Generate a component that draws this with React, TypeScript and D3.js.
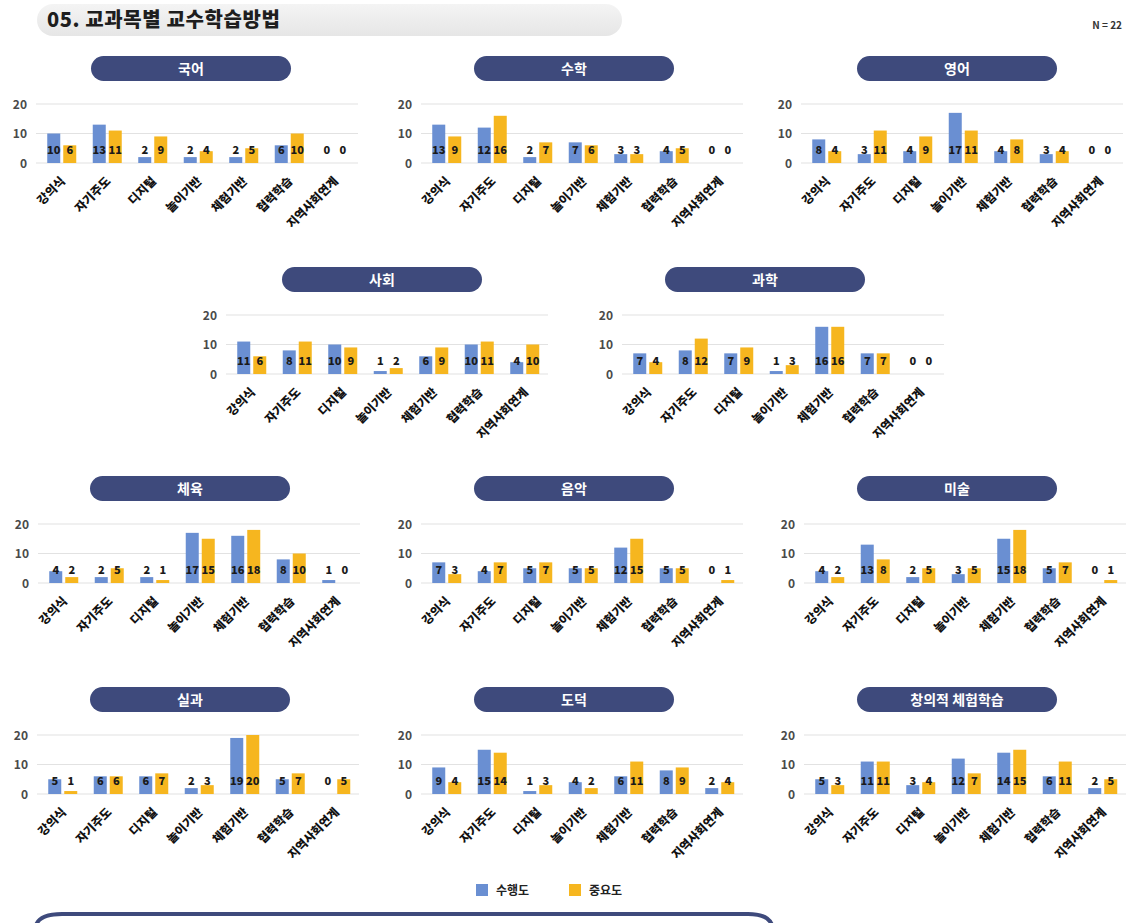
import React from "react";
import * as d3 from "d3";

const categories = ["강의식", "자기주도", "디지털", "놀이기반", "체험기반", "협력학습", "지역사회연계"];
const subjects = ["국어", "수학", "영어", "사회", "과학", "체육", "음악", "미술", "실과", "도덕", "창의적 체험학습"];
const seriesNames = ["수행도", "중요도"];
const yTicks = [0, 10, 20];

// 수행도
const performance = [
  [10, 13, 2, 2, 2, 6, 0],
  [13, 12, 2, 7, 3, 4, 0],
  [8, 3, 4, 17, 4, 3, 0],
  [11, 8, 10, 1, 6, 10, 4],
  [7, 8, 7, 1, 16, 7, 0],
  [4, 2, 2, 17, 16, 8, 1],
  [7, 4, 5, 5, 12, 5, 0],
  [4, 13, 2, 3, 15, 5, 0],
  [5, 6, 6, 2, 19, 5, 0],
  [9, 15, 1, 4, 6, 8, 2],
  [5, 11, 3, 12, 14, 6, 2],
];

// 중요도
const importance = [
  [6, 11, 9, 4, 5, 10, 0],
  [9, 16, 7, 6, 3, 5, 0],
  [4, 11, 9, 11, 8, 4, 0],
  [6, 11, 9, 2, 9, 11, 10],
  [4, 12, 9, 3, 16, 7, 0],
  [2, 5, 1, 15, 18, 10, 0],
  [3, 7, 7, 5, 15, 5, 1],
  [2, 8, 5, 5, 18, 7, 1],
  [1, 6, 7, 3, 20, 7, 5],
  [4, 14, 3, 2, 11, 9, 4],
  [3, 11, 4, 7, 15, 11, 5],
];

// panel placement: left edge of plot, baseline y, centre of title pill
const panelLayout = [
  { gs: 36, y0: 163, pillCx: 191 },
  { gs: 421, y0: 163, pillCx: 574 },
  { gs: 801, y0: 163, pillCx: 957 },
  { gs: 226, y0: 374, pillCx: 382 },
  { gs: 622, y0: 374, pillCx: 765 },
  { gs: 38, y0: 583, pillCx: 190 },
  { gs: 421, y0: 583, pillCx: 574 },
  { gs: 804, y0: 583, pillCx: 957 },
  { gs: 37, y0: 794, pillCx: 190 },
  { gs: 421, y0: 794, pillCx: 574 },
  { gs: 804, y0: 794, pillCx: 957 },
];

const BLUE = "#6a8fd2";
const ORANGE = "#f6b61f";
const NAVY = "#3e4a7c";
const FONT = "'Noto Sans CJK KR', 'Noto Sans', sans-serif";
const colors = [BLUE, ORANGE];

const Panel: React.FC<{ idx: number }> = ({ idx }) => {
  const { gs, y0, pillCx } = panelLayout[idx];
  const plotH = 59;
  const x = d3.scaleBand<string>().domain(categories).range([gs + 3, gs + 3 + 7 * 45.5]);
  const y = d3.scaleLinear().domain([0, 20]).range([y0, y0 - plotH]);
  const barW = 13;
  const gap = 3;
  const inner = d3.scaleOrdinal<number>().domain(seriesNames).range([-(barW + gap / 2), gap / 2]);
  const vals = [performance[idx], importance[idx]];
  const pillW = 200;
  const pillTop = y0 - plotH - 48;

  return (
    <g>
      <rect x={pillCx - pillW / 2} y={pillTop} width={pillW} height={25} rx={12.5} fill={NAVY} />
      <text x={pillCx} y={pillTop + 18} textAnchor="middle" fill="#fff" fontSize={14} fontWeight="bold" fontFamily={FONT}>
        {subjects[idx]}
      </text>
      {yTicks.map((t) => (
        <g key={t}>
          <line x1={gs} x2={gs + 322} y1={y(t)} y2={y(t)} stroke="#e2e2e2" strokeWidth={1.2} />
          <text x={gs - 9} y={y(t) + 4.5} textAnchor="end" fontSize={12} fontWeight="bold" fill="#4a4a4a" fontFamily={FONT}>
            {t}
          </text>
        </g>
      ))}
      {categories.map((c, i) => {
        const cx = (x(c) as number) + x.bandwidth() / 2;
        return (
          <g key={c}>
            {seriesNames.map((s, k) => {
              const v = vals[k][i];
              const bx = cx + (inner(s) as number);
              return (
                <g key={s}>
                  <rect x={bx} y={y(v)} width={barW} height={y(0) - y(v)} fill={colors[k]} />
                  <text x={bx + barW / 2} y={y0 - 9} textAnchor="middle" fontSize={11} fontWeight={900} fill="#1a1a1a" fontFamily={FONT}>
                    {v}
                  </text>
                </g>
              );
            })}
            <text
              transform={`translate(${cx + 4},${y0 + 19}) rotate(-45)`}
              textAnchor="end"
              fontSize={12}
              fontWeight={900}
              fill="#111"
              fontFamily={FONT}
            >
              {c}
            </text>
          </g>
        );
      })}
    </g>
  );
};

export default function App() {
  return (
    <svg width={1128} height={923} style={{ position: "absolute", left: 0, top: 0, background: "#fff" }}>
      <defs>
        <linearGradient id="pillGray" x1="0" x2="0" y1="0" y2="1">
          <stop offset="0" stopColor="#f4f4f4" />
          <stop offset="1" stopColor="#e6e6e6" />
        </linearGradient>
      </defs>
      <rect x={37} y={4} width={585} height={32} rx={16} fill="url(#pillGray)" />
      <text x={47} y={27} fontSize={20} fontWeight={900} letterSpacing={0.6} fill="#1e1e1e" fontFamily={FONT}>
        05. 교과목별 교수학습방법
      </text>
      <text x={1122} y={29} textAnchor="end" fontSize={10} fontWeight="bold" fill="#333" fontFamily={FONT}>
        N = 22
      </text>
      {subjects.map((s, i) => (
        <Panel key={s} idx={i} />
      ))}
      {seriesNames.map((s, k) => (
        <g key={s} transform={`translate(${476 + k * 93},884)`}>
          <rect x={0} y={0} width={12} height={12} fill={colors[k]} />
          <text x={20} y={11} fontSize={12} fontWeight="bold" fill="#222" fontFamily={FONT}>
            {s}
          </text>
        </g>
      ))}
      <path d="M36 925 Q40 914 62 914 L748 914 Q768 914 772 925" fill="none" stroke={NAVY} strokeWidth={4} />
    </svg>
  );
}
